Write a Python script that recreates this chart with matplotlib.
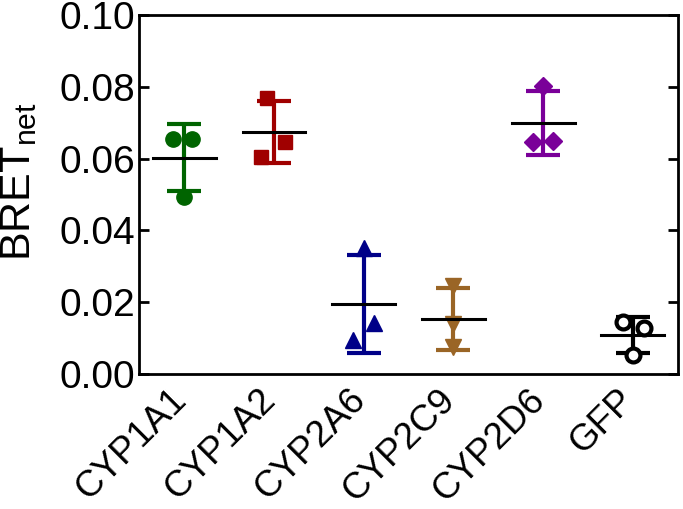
import matplotlib
matplotlib.use("Agg")
import matplotlib.pyplot as plt
import matplotlib.transforms as mtransforms
import numpy as np

plt.rcParams['font.family'] = ['Liberation Sans', 'DejaVu Sans']
plt.rcParams['mathtext.fontset'] = 'custom'
plt.rcParams['mathtext.rm'] = 'Liberation Sans'
plt.rcParams['mathtext.it'] = 'Liberation Sans'

categories = ['CYP1A1', 'CYP1A2', 'CYP2A6', 'CYP2C9', 'CYP2D6', 'GFP']
values = {
    'CYP1A1': [0.0656, 0.0656, 0.0494],
    'CYP1A2': [0.0770, 0.0645, 0.0604],
    'CYP2A6': [0.0350, 0.0143, 0.0094],
    'CYP2C9': [0.0245, 0.0140, 0.0075],
    'CYP2D6': [0.0803, 0.0645, 0.0650],
    'GFP':    [0.0145, 0.0128, 0.0053],
}
jitter = {
    'CYP1A1': [-0.13, 0.09, 0.0],
    'CYP1A2': [-0.08, 0.12, -0.14],
    'CYP2A6': [0.0, 0.12, -0.12],
    'CYP2C9': [0.0, 0.0, 0.0],
    'CYP2D6': [0.0, -0.11, 0.11],
    'GFP':    [-0.11, 0.13, 0.0],
}
colors = ['#006400', '#a00000', '#000088', '#9a6526', '#7a0099', '#000000']
markers = ['o', 's', '^', 'v', 'D', 'o']
msizes = [11, 10, 11, 11, 9, 10]

fig = plt.figure(figsize=(6.83, 5.09), dpi=100)
ax = fig.add_axes([0.2042, 0.2652, 0.7880, 0.7053])

for i, cat in enumerate(categories):
    v = np.array(values[cat])
    m = v.mean()
    sd = v.std(ddof=1)
    c = colors[i]
    xs = i + np.array(jitter[cat])
    ax.errorbar(i, m, yerr=sd, fmt='none', ecolor=c, elinewidth=3,
                capsize=12, capthick=3, zorder=2)
    if cat == 'GFP':
        ax.plot(xs, v, linestyle='none', marker='o', markersize=msizes[i],
                markerfacecolor='white', markeredgecolor=c, markeredgewidth=3,
                zorder=3)
    else:
        ax.plot(xs, v, linestyle='none', marker=markers[i], markersize=msizes[i],
                color=c, zorder=3)
    ax.plot([i - 0.35, i + 0.35], [m, m], color='black', linewidth=2.2, zorder=4)

ax.set_xlim(-0.5, 5.5)
ax.set_ylim(0, 0.10)
ax.set_yticks([0.0, 0.02, 0.04, 0.06, 0.08, 0.10])
ax.set_yticklabels(['0.00', '0.02', '0.04', '0.06', '0.08', '0.10'])
ax.set_xticks(range(len(categories)))
ax.set_xticklabels(categories, rotation=45, ha='right', rotation_mode='anchor')
ax.tick_params(axis='x', length=0, pad=6, labelsize=26.5)
ax.tick_params(axis='y', direction='in', length=7, width=2, labelsize=28,
               pad=3, right=True)
shift = mtransforms.ScaledTranslation(-16 / 100, 0, fig.dpi_scale_trans)
for lbl in ax.get_xticklabels():
    lbl.set_transform(lbl.get_transform() + shift)
for s in ax.spines.values():
    s.set_linewidth(2)

ax.set_ylabel(r'BRET$_{\mathrm{net}}$', fontsize=31)
ax.yaxis.set_label_coords(-0.187, 0.535)

fig.savefig('out.png', dpi=100)
